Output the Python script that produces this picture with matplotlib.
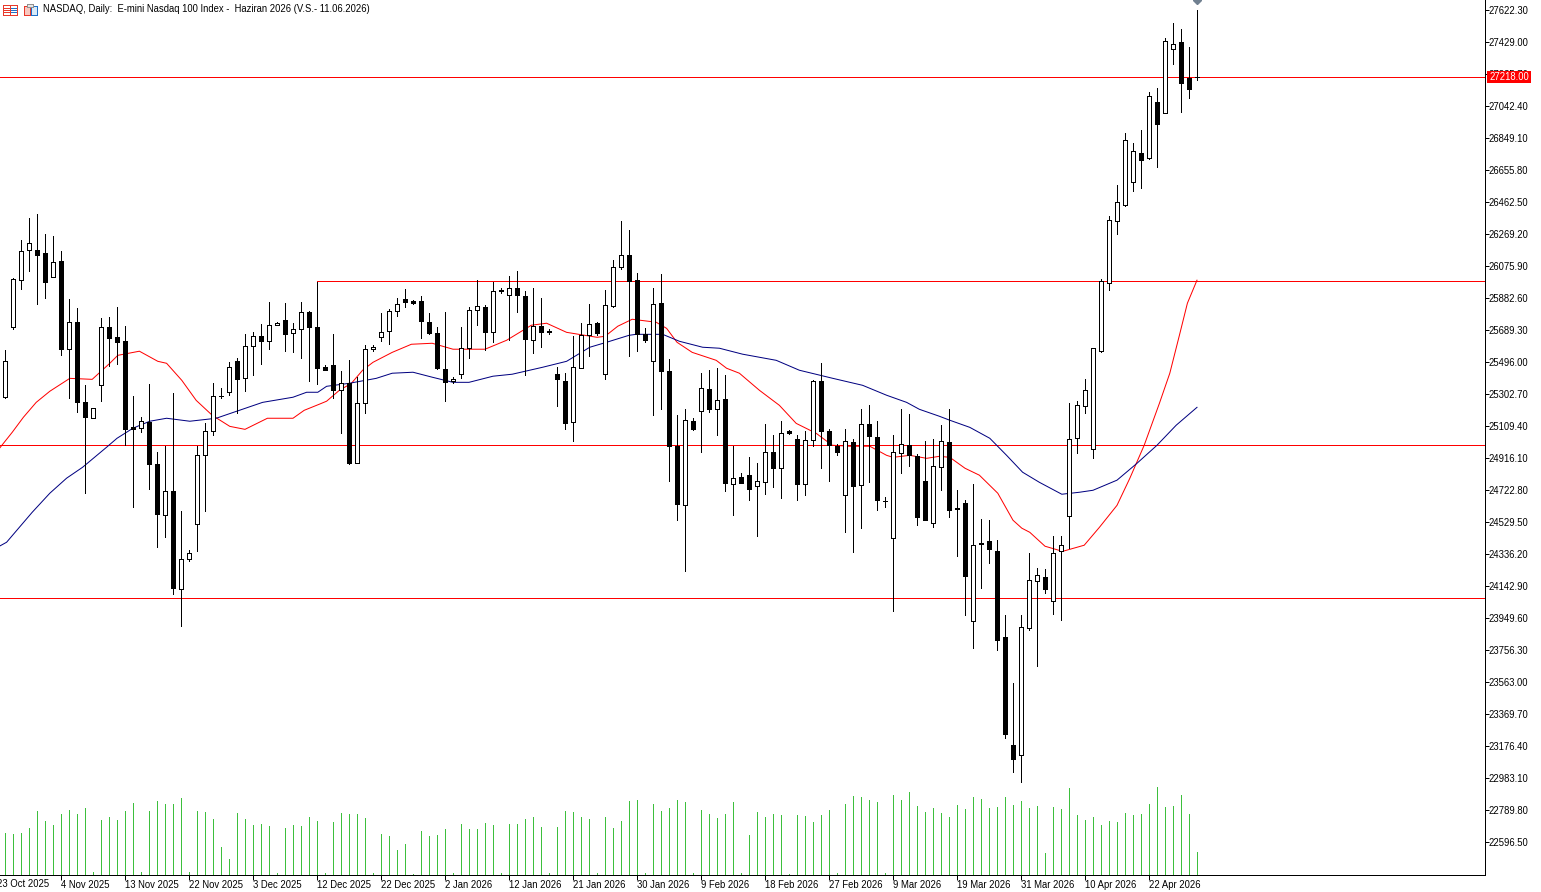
import matplotlib
matplotlib.use("Agg")
import matplotlib.pyplot as plt
from matplotlib.patches import Rectangle
from matplotlib.lines import Line2D
from matplotlib.transforms import IdentityTransform

plt.rcParams['font.family'] = ['Liberation Sans', 'DejaVu Sans']

TITLE = "NASDAQ, Daily:  E-mini Nasdaq 100 Index -  Haziran 2026 (V.S.- 11.06.2026)"

opens = [25286,25709,25996,26177,26177,26159,26014,26110,25579,25742,25259,25162,25361,25712,25647,25627,25103,25102,25134,24884,
24576,24721,24127,24310,24522,24936,25083,25292,25319,25506,25404,25597,25657,25627,25724,25754,25670,25700,25802,25712,
25466,25482,25329,25373,24890,25253,25579,25649,25687,25806,25881,25869,25864,25742,25675,25458,25383,25425,25585,25814,
25832,25681,25931,25905,25947,25899,25633,25718,25683,25423,25385,25138,25462,25663,25736,25425,25836,26074,26147,25996,
25669,25506,25857,25446,24990,24634,25144,25204,25337,25216,25277,24763,24801,24818,24751,24775,24957,24857,25079,25035,
24761,25029,25385,25083,24990,24697,25017,24755,25126,25047,24661,24437,24950,24999,24928,24781,24528,24866,25017,24618,
24649,23936,24407,24419,24359,23839,23187,23126,23893,24177,24201,24056,24359,24568,25041,25234,24975,25567,25977,26352,
26449,26588,26763,26730,27071,27002,27391,27433,27211,27222]
highs = [25568,26008,26233,26370,26394,26269,26261,26171,25877,25822,25357,25222,25762,25768,25828,25718,25291,25164,25363,24957,
24990,25309,24596,24360,24990,25129,25373,25339,25500,25524,25669,25681,25730,25863,25742,25857,25736,25863,25808,25984,
25478,25665,25442,25508,25407,25599,25599,25792,25820,25887,25937,25870,25895,25792,25712,25798,25410,25707,25832,25996,
25844,25979,25945,26015,26046,25925,25947,25887,25700,25470,25434,25653,25736,25846,25738,25931,26112,26348,26293,26038,
25701,25947,26028,25514,25176,25216,25162,25430,25448,25464,25418,24990,24826,24922,24886,25126,25055,25140,25085,25055,
25079,25391,25490,25095,25001,25095,25031,25216,25240,25140,24682,25055,25216,25182,24940,25019,25031,25115,25212,24723,
24662,24759,24548,24542,24421,23972,23557,23972,24347,24256,24250,24449,24449,25253,25265,25393,25585,26002,26378,26565,
26879,26823,26902,27131,27155,27457,27544,27512,27403,27622]
lows = [25280,25697,25939,26048,25848,25884,26010,25540,25280,25196,24707,25162,25262,25474,25486,24995,24622,25075,24731,24380,
24441,24096,23903,24296,24356,24596,25055,25280,25298,25192,25323,25419,25486,25576,25723,25564,25558,25522,25383,25363,
25448,25280,25069,24880,24889,25190,25564,25625,25606,25774,25828,25846,25643,25665,25454,25262,25371,25401,25522,25721,
25568,25617,25917,25631,25800,25419,25552,25588,25665,25232,25093,25021,25460,25534,25663,25395,25832,26060,25534,25564,
25617,25178,25212,24779,24542,24235,25085,24954,25194,25055,24717,24574,24765,24662,24447,24700,24741,24676,25063,24664,
24693,24993,24857,24779,24934,24471,24350,24495,24773,24604,24620,23994,24827,24870,24513,24542,24501,24725,24561,24326,
23970,23770,24133,24284,23758,23227,23021,22961,23879,23661,24102,23976,23939,24374,24948,25190,24920,25561,25931,26271,
26438,26531,26549,26722,26676,27000,27296,27008,27092,27201]
closes = [25506,26002,26171,26219,26144,25981,26104,25576,25742,25256,25166,25222,25712,25643,25619,25093,25093,25144,24882,24580,
24721,24133,24310,24347,24938,25083,25295,25295,25470,25395,25597,25657,25627,25724,25736,25667,25700,25802,25709,25462,
25449,25329,25371,24888,25253,25579,25591,25681,25808,25851,25860,25852,25745,25673,25462,25377,25397,25585,25814,25838,
25681,25929,25929,25947,25905,25637,25718,25679,25681,25395,25129,25470,25663,25730,25673,25844,26074,26147,25985,25665,
25631,25851,25443,24993,24640,25150,25093,25343,25214,25271,24767,24800,24765,24731,24781,24957,24857,25071,25069,24761,
25029,25385,25081,24995,24954,25023,24749,25126,25051,24664,24658,24957,25005,24938,24561,24543,24872,25023,24604,24610,
24205,24395,24398,24368,23819,23251,23100,23900,24183,24214,24127,24347,24395,25035,25240,25331,25585,25987,26358,26467,
26841,26775,26718,27107,26935,27439,27421,27183,27147,27218]
volumes = [125,121,124,139,190,160,148,181,193,181,199,7,163,172,163,190,214,7,190,220,
211,211,229,7,190,187,166,82,46,184,166,148,151,145,4,139,148,145,172,160,
4,157,184,181,181,169,4,121,115,73,91,1,130,115,118,136,4,151,136,136,
154,148,4,151,151,166,172,142,4,142,190,187,172,166,4,172,139,160,220,223,
6,211,190,199,223,217,6,193,181,169,181,217,6,118,187,172,181,178,3,178,
175,157,178,193,6,211,235,232,223,217,6,238,223,247,205,187,199,184,172,208,
196,232,226,199,202,232,208,220,199,205,64,202,196,259,178,163,172,148,160,157,
184,178,181,211,262,202,205,238,181,67]

red_bars = [-0.7,0.9,2.3,3.9,5.6,8.1,10.9,13.1,14.1,16.8,19.1,20.2,22.1,23.9,25.9,28.1,30,32.8,36,37.4,39.3,40.2,41.8,43.3,44.7,46,48.4,50.8,53.4,56,60,62.7,65.8,67.7,70.2,74,75,76.6,78.4,81.4,82.7,84,85.9,88.9,90.2,91.8,94.3,96.8,98.9,101.4,103.4,105.6,108.1,110.2,111,113.1,115.2,116.8,118.1,120,121.8,124.1,126,127.1,128.1,130,132.2,134.9,136.8,139,140.6,142.4,144.3,145.6,146.8,147.8,149]
red_ma = [24976,25073,25164,25254,25321,25399,25393,25490,25538,25563,25502,25490,25387,25266,25176,25109,25091,25158,25158,25206,25243,25261,25327,25369,25448,25496,25556,25605,25611,25575,25575,25629,25720,25732,25677,25647,25653,25714,25756,25738,25701,25617,25556,25508,25460,25430,25327,25236,25127,25067,24995,24989,24989,24934,24922,24934,24916,24928,24922,24856,24814,24705,24542,24494,24469,24385,24354,24391,24499,24632,24795,24995,25248,25430,25659,25853,25992]
blue_bars = [-0.7,0.2,3.4,5.6,7.7,9.7,12.7,14,16,18.1,20.2,23.1,26.4,29.3,32.2,36,37.7,39.1,40.2,43,46.4,48.4,51,53.4,56,58,61,63.4,67.2,70.2,73.1,75.2,78,78.9,82.2,84.3,87.2,89.3,92.2,96.4,99.3,103.4,107.2,110.2,112.7,114.3,116.8,118.1,120.6,123.1,125.2,127.2,129.3,132.1,134.3,136,139,141.5,144,146.4,149]
blue_ma = [24385,24409,24590,24705,24796,24862,24983,25037,25098,25140,25158,25140,25158,25206,25254,25285,25315,25315,25351,25369,25399,25430,25436,25406,25375,25375,25412,25424,25466,25502,25587,25617,25659,25665,25665,25623,25587,25581,25545,25508,25448,25400,25357,25297,25254,25212,25170,25146,25103,25037,24934,24832,24771,24699,24711,24723,24784,24886,24995,25116,25224]

price_ticks = [27622.30,27429.00,27235.70,27042.40,26849.10,26655.80,26462.50,26269.20,26075.90,25882.60,25689.30,25496.00,25302.70,25109.40,24916.10,24722.80,24529.50,24336.20,24142.90,23949.60,23756.30,23563.00,23369.70,23176.40,22983.10,22789.80,22596.50]
date_ticks = [7,15,23,31,39,47,55,63,71,79,87,95,103,111,119,127,135,143]
date_labels = ["4 Nov 2025","13 Nov 2025","22 Nov 2025","3 Dec 2025","12 Dec 2025","22 Dec 2025","2 Jan 2026","12 Jan 2026","21 Jan 2026","30 Jan 2026","9 Feb 2026","18 Feb 2026","27 Feb 2026","9 Mar 2026","19 Mar 2026","31 Mar 2026","10 Apr 2026","22 Apr 2026"]
first_label = "23 Oct 2025"
level_full = [27218.0, 24994.6, 24070.4]
level_part = 25985.3
last_price = 27218.00

W, H = 1541, 892
PLOT_R, PLOT_B = 1484.5, 874.5
PPP = 6.0406
Y_TOP = 27684.5
X_OFF = 5.0
RED, NAVY, LIME = '#FF0000', '#000080', '#3DBF3D'
PX = 0.72
THIN = 0.72
FS = 6.85

fig = plt.figure(figsize=(W/100, H/100), dpi=100, facecolor='white')
ax = fig.add_axes([0, (H-PLOT_B)/H, PLOT_R/W, PLOT_B/H])
ax.set_xlim(-X_OFF/8, (PLOT_R-X_OFF)/8)
ax.set_ylim(Y_TOP-PLOT_B*PPP, Y_TOP)
axv = ax.twinx()
axv.set_ylim(0, PLOT_B*3)
axv.axis('off')
ax.set_zorder(2); axv.set_zorder(1); ax.patch.set_visible(False)

n = len(opens)
xs = list(range(n))
axv.vlines(xs, 0, volumes, color=LIME, lw=PX, antialiased=False)

for y in level_full:
    ax.axhline(y, color=RED, lw=PX, antialiased=False, zorder=1)
ax.hlines(level_part, 39, ax.get_xlim()[1], color=RED, lw=PX, antialiased=False, zorder=1)

ax.plot(red_bars, red_ma, color=RED, lw=THIN, antialiased=True, zorder=2)
ax.plot(blue_bars, blue_ma, color=NAVY, lw=THIN, antialiased=True, zorder=2)

ax.vlines(xs, lows, highs, color='black', lw=PX, antialiased=False, zorder=3)
bottoms = [min(o, c) for o, c in zip(opens, closes)]
heights = [abs(c-o) for o, c in zip(opens, closes)]
faces = ['white' if c >= o else 'black' for o, c in zip(opens, closes)]
ax.bar(xs, heights, bottom=bottoms, width=0.5, color=faces, edgecolor='black', linewidth=PX, antialiased=False, zorder=4)

ax.plot([149], [Y_TOP], marker='D', ms=4.5, color='#708090', clip_on=True, zorder=5, ls='none')

for s in ['top', 'left']:
    ax.spines[s].set_visible(False)
for s in ['right', 'bottom']:
    ax.spines[s].set_linewidth(PX)
ax.yaxis.tick_right()
ax.set_yticks(price_ticks)
ax.set_yticklabels([f"{v:.2f}" for v in price_ticks])
ax.set_xticks(date_ticks)
ax.set_xticklabels(date_labels, ha='left')
ax.tick_params(axis='y', length=3, width=PX, labelsize=FS, pad=0.2)
ax.tick_params(axis='x', length=3.6, width=PX, labelsize=FS, pad=0.1)
ax.text(-1, -0.0047, first_label, transform=ax.get_xaxis_transform(), ha='left', va='top',
        fontsize=FS, clip_on=False)

idt = IdentityTransform()
def rect(x, y, w, h, fc='none', ec='none', z=10):
    fig.add_artist(Rectangle((x, H-y-h), w, h, transform=idt, facecolor=fc, edgecolor=ec, lw=PX, antialiased=False, zorder=z))
def seg(x0, y0, x1, y1, c):
    fig.add_artist(Line2D([x0, x1], [H-y0, H-y1], transform=idt, color=c, lw=PX, antialiased=False, zorder=10))

rect(1487, 71, 44, 12, fc=RED)
fig.text(1489/W, 1-77.5/H, f"{last_price:.2f}", color='white', fontsize=FS, va='center', ha='left', zorder=11)
fig.text(43/W, 1-9.5/H, TITLE, color='black', fontsize=6.88, va='center', ha='left', zorder=11)

# header icons
BLUE = '#1E6FC8'; IR = '#E8392B'
rect(2.5, 4.5, 14, 10, ec=IR)
seg(9.5, 4.5, 9.5, 14.5, IR)
for yy in (7.5, 9.5, 11.5):
    seg(4, yy, 8.5, yy, IR); seg(10.5, yy, 15.5, yy, BLUE)
rect(23.5, 5.5, 6, 9, fc='#F8C8C0', ec=IR)
rect(30.5, 5.5, 6, 9, fc='#D8EAF8', ec=BLUE)
rect(27, 3.5, 6, 3, fc='#E8E8E8', ec='#909090')

fig.savefig('out.png', dpi=100, facecolor='white')
